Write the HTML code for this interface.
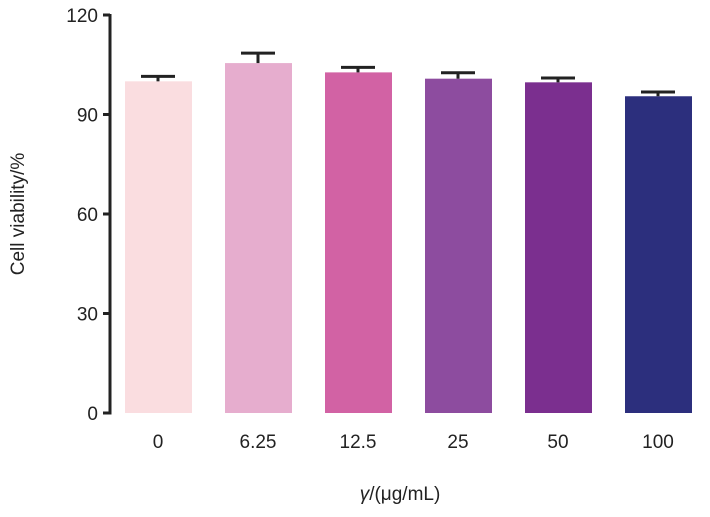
<!DOCTYPE html>
<html><head><meta charset="utf-8"><style>
body{margin:0;background:#fff;}
svg{display:block;font-family:"Liberation Sans",sans-serif;}
</style></head><body>
<svg id="chart" width="710" height="517" viewBox="0 0 710 517"></svg>
<script>
const categories=["0","6.25","12.5","25","50","100"];
const values=[100,105.5,102.7,100.8,99.7,95.5];
const errors=[1.5,3,1.5,1.8,1.3,1.3];
const colors=["#fadde0","#e6adce","#d262a4","#8d4c9f","#7b2f8f","#2c2f7d"];
const yTicks=[0,30,60,90,120];
const NS="http://www.w3.org/2000/svg";
const svg=document.getElementById("chart");
const y0=413,y1=15,axisX=110;
const y=v=>y0-(v/120)*(y0-y1);
const xc=i=>158+i*100;
function mk(t,a){const e=document.createElementNS(NS,t);for(const k in a)e.setAttribute(k,a[k]);svg.appendChild(e);return e;}
categories.forEach((c,i)=>{
  const r=mk("rect",{x:xc(i)-33,y:y(values[i]),width:67,height:y0-y(values[i]),fill:colors[i]});
  
  
  const et=y(values[i]+errors[i]);
  const l=mk("line",{x1:xc(i),x2:xc(i),y1:y(values[i]),y2:et,stroke:"#222","stroke-width":3});
  
  
  const cap=mk("line",{x1:xc(i)-17,x2:xc(i)+17,y1:et,y2:et,stroke:"#222","stroke-width":3});
  
  
  const t=mk("text",{x:xc(i),y:448,"text-anchor":"middle","font-size":19,fill:"#222"});
  t.textContent=c;
  
  
});
yTicks.forEach(v=>{
  const tk=mk("line",{x1:axisX-7,x2:axisX,y1:y(v),y2:y(v),stroke:"#222","stroke-width":3});
  
  
  const t=mk("text",{x:axisX-12,y:y(v)+7,"text-anchor":"end","font-size":19,fill:"#222"});
  t.textContent=v;
  
  
});
const ax=mk("line",{x1:axisX,x2:axisX,y1:y1-1,y2:y0+1.5,stroke:"#222","stroke-width":3});


const yt=mk("text",{x:0,y:0,transform:"translate(24,214) rotate(-90)","text-anchor":"middle","font-size":19,fill:"#222"});
yt.textContent="Cell viability/%";


const xt=mk("text",{x:400,y:500,"text-anchor":"middle","font-size":19,fill:"#222"});
xt.innerHTML='<tspan font-style="italic">γ</tspan>/(μg/mL)';


</script>
</body></html>
